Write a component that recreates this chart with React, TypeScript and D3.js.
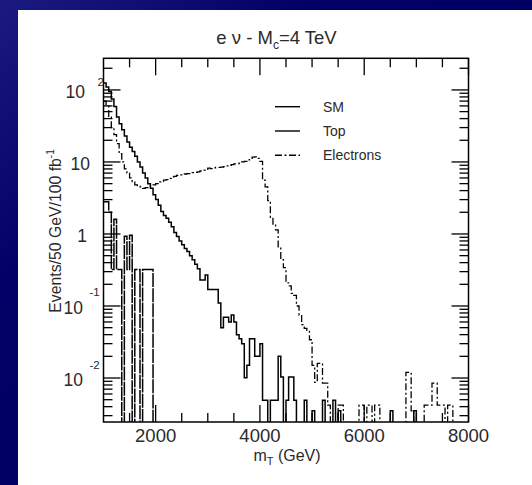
import React from 'react'
import * as d3 from 'd3'

// 50 GeV bins, first bin starts at 1000 GeV
const binStart = 1000
const binWidth = 50

// Events / 50 GeV / 100 fb^-1, one value per bin (0 = empty bin)
const smValues = [
    125, 110, 95, 75, 59, 42, 34, 28, 23, 19,
    16, 14, 12, 10, 8.5, 7.0, 6.0, 5.0, 4.3, 3.5,
    3.0, 2.5, 2.05, 1.8, 1.65, 1.45, 1.26, 1.05, 0.92, 0.8,
    0.71, 0.63, 0.57, 0.5, 0.44, 0.38, 0.33, 0.23, 0.23, 0.27,
    0.17, 0.17, 0.17, 0.17, 0.11, 0.05, 0.07, 0.07, 0.06, 0.075,
    0.06, 0.04, 0.035, 0.03, 0.0101, 0.015, 0.035, 0.035, 0.02, 0.02,
    0.03, 0.0049, 0.0049, 0, 0.0049, 0.0049, 0.0049, 0.02, 0.0103, 0,
    0.0049, 0.0103, 0.0103, 0.0049, 0, 0, 0, 0.0049, 0, 0,
    0.0035, 0, 0, 0, 0.0049, 0, 0, 0, 0.0049, 0,
    0.0035, 0, 0, 0, 0, 0, 0, 0, 0, 0,
    0, 0, 0, 0, 0, 0, 0, 0, 0, 0,
    0.0035, 0, 0, 0, 0, 0, 0, 0, 0, 0.0035,
    0,
]

const topValues = [
    2.8, 2.8, 2.0, 0.32, 1.6, 0.32, 0.32, 0, 0.93, 0.32,
    0.96, 0, 0.32, 0.32, 0, 0.32, 0.32, 0.32, 0.32, 0,
]

const electronValues = [
    70, 60, 42, 30, 24, 18, 13, 10, 8, 7,
    6, 5.3, 4.8, 4.6, 4.5, 4.3, 4.4, 4.5, 4.7, 4.8,
    5.0, 5.3, 5.4, 5.6, 5.7, 5.9, 6.2, 6.3, 6.5, 6.6,
    6.6, 6.8, 6.9, 6.9, 7.1, 7.2, 7.3, 7.5, 7.7, 7.9,
    8.2, 8.1, 8.3, 8.4, 8.4, 8.5, 8.6, 8.8, 9.0, 9.2,
    9.4, 9.5, 9.6, 10.0, 10.2, 10.7, 11.2, 11.7, 11.8, 11.2,
    10.2, 5.6, 4.5, 2.9, 1.7, 1.33, 1.14, 0.66, 0.44, 0.34,
    0.21, 0.19, 0.15, 0.14, 0.1, 0.075, 0.055, 0.049, 0.046, 0.034,
    0.015, 0.0087, 0.016, 0.016, 0.0085, 0.0085, 0.0042, 0, 0, 0,
    0.0042, 0.0042, 0, 0, 0, 0, 0, 0, 0.0042, 0.0042,
    0, 0.0042, 0.0042, 0, 0.0042, 0.0042, 0, 0, 0, 0,
    0, 0, 0, 0, 0, 0, 0.012, 0.012, 0.0035, 0,
    0, 0, 0, 0.0042, 0.0042, 0.0042, 0.0085, 0.0085, 0.0042, 0.0042,
    0.0042, 0, 0.0042, 0.0042, 0, 0,
]

const xMajorTicks = [2000, 4000, 6000, 8000]
const xMinorTicks = [1500, 2500, 3000, 3500, 4500, 5000, 5500, 6500, 7000, 7500]
const yDecades = [2, 1, 0, -1, -2]
const yMinorMult = [2, 3, 4, 5, 6, 7, 8, 9]
const legendItems = ['SM', 'Top', 'Electrons']

const W = 532
const H = 485
const frame = { left: 103.5, right: 468.5, top: 58.3, bottom: 422 }
const font = '"Liberation Sans", Arial, Helvetica, sans-serif'
const ink = '#2a2a2a'

const x = d3.scaleLinear().domain([1000, 8000]).range([frame.left, frame.right])
const y = d3.scaleLog().domain([0.00245, 275]).range([frame.bottom, frame.top])

function stepPath(values: number[]): string {
    const floor = frame.bottom + 6
    let d = ''
    values.forEach((v, i) => {
        const x0 = x(binStart + i * binWidth)
        const x1 = x(binStart + (i + 1) * binWidth)
        const yy = v > 0 ? y(v) : floor
        d += i === 0 ? `M${x0},${yy}` : `V${yy}`
        d += `H${x1}`
    })
    d += `V${floor}`
    return d
}

const series = [
    { name: 'SM', values: smValues, dash: undefined, width: 1.5 },
    { name: 'Top', values: topValues, dash: '14,1.2', width: 1.5 },
    { name: 'Electrons', values: electronValues, dash: '7,2.5,2,2.5', width: 1.3 },
]

const App: React.FC = () => {
    const yMinor: number[] = []
    for (let e = -3; e <= 2; e++) {
        yMinorMult.forEach((m) => {
            const v = m * Math.pow(10, e)
            if (v > y.domain()[0] && v < y.domain()[1]) yMinor.push(v)
        })
    }

    return (
        <svg
            width={W}
            height={H}
            style={{ position: 'fixed', left: 0, top: 0, display: 'block' }}
            fontFamily={font}
        >
            <defs>
                <linearGradient id="bg" x1="0" y1="0" x2="1" y2="1">
                    <stop offset="0" stopColor="#1a1a80" />
                    <stop offset="0.3" stopColor="#000066" />
                    <stop offset="1" stopColor="#00005e" />
                </linearGradient>
                <clipPath id="plot">
                    <rect
                        x={frame.left}
                        y={frame.top}
                        width={frame.right - frame.left}
                        height={frame.bottom - frame.top}
                    />
                </clipPath>
            </defs>
            <rect width={W} height={H} fill="url(#bg)" />
            <rect x={18} y={10} width={W - 18} height={H - 10} fill="#fff" />

            {/* title */}
            <text x={276.5} y={43.5} fontSize={18.5} fill={ink} textAnchor="middle">
                e ν - M
                <tspan fontSize={12} dy={5}>c</tspan>
                <tspan dy={-5}>=4 TeV</tspan>
            </text>

            {/* histograms */}
            <g clipPath="url(#plot)" fill="none" stroke="#000">
                {series.map((s) => (
                    <path
                        key={s.name}
                        d={stepPath(s.values)}
                        strokeWidth={s.width}
                        strokeDasharray={s.dash}
                    />
                ))}
            </g>

            {/* frame */}
            <rect
                x={frame.left}
                y={frame.top}
                width={frame.right - frame.left}
                height={frame.bottom - frame.top}
                fill="none"
                stroke="#000"
                strokeWidth={1.5}
            />

            {/* ticks on all four sides */}
            <g stroke="#000" strokeWidth={1.3}>
                {xMajorTicks.map((t) => (
                    <g key={'M' + t}>
                        <line x1={x(t)} x2={x(t)} y1={frame.bottom} y2={frame.bottom - 17} />
                        <line x1={x(t)} x2={x(t)} y1={frame.top} y2={frame.top + 17} />
                    </g>
                ))}
                {xMinorTicks.map((t) => (
                    <g key={'m' + t}>
                        <line x1={x(t)} x2={x(t)} y1={frame.bottom} y2={frame.bottom - 9} />
                        <line x1={x(t)} x2={x(t)} y1={frame.top} y2={frame.top + 9} />
                    </g>
                ))}
                {yDecades.map((e) => {
                    const yy = y(Math.pow(10, e))
                    return (
                        <g key={'Y' + e}>
                            <line x1={frame.left} x2={frame.left + 17} y1={yy} y2={yy} />
                            <line x1={frame.right} x2={frame.right - 17} y1={yy} y2={yy} />
                        </g>
                    )
                })}
                {yMinor.map((v, i) => (
                    <g key={'y' + i}>
                        <line x1={frame.left} x2={frame.left + 9} y1={y(v)} y2={y(v)} />
                        <line x1={frame.right} x2={frame.right - 9} y1={y(v)} y2={y(v)} />
                    </g>
                ))}
            </g>

            {/* x tick labels */}
            <g fontSize={18.5} fill={ink} textAnchor="middle">
                {xMajorTicks.map((t) => (
                    <text key={t} x={x(t)} y={442}>
                        {t}
                    </text>
                ))}
            </g>

            {/* y tick labels, PAW style 10 with raised exponent */}
            <g fill={ink}>
                {yDecades.map((e) => {
                    const yy = y(Math.pow(10, e))
                    if (e === 0)
                        return (
                            <text key={e} x={87} y={yy + 8} fontSize={17.5} textAnchor="end">
                                1
                            </text>
                        )
                    if (e === 1)
                        return (
                            <text key={e} x={90} y={yy + 8} fontSize={17.5} textAnchor="end">
                                10
                            </text>
                        )
                    const mainRight = e > 0 ? 85 : 83
                    return (
                        <g key={e}>
                            <text x={mainRight} y={yy + 8} fontSize={17.5} textAnchor="end">
                                10
                            </text>
                            <text x={e > 0 ? 97.5 : 89.5} y={yy + (e > 0 ? -3.5 : -9.5)} fontSize={11.5}>
                                {e > 0 ? String(e) : '-' + String(-e)}
                            </text>
                        </g>
                    )
                })}
            </g>

            {/* axis titles */}
            <text x={287} y={461} fontSize={16} fill={ink} textAnchor="middle">
                m
                <tspan fontSize={11} dy={4}>T</tspan>
                <tspan dy={-4}> (GeV)</tspan>
            </text>
            <text
                transform="translate(60.5,231) rotate(-90)"
                fontSize={15.8}
                fill={ink}
                textAnchor="middle"
            >
                Events/50 GeV/100 fb
                <tspan fontSize={10} dy={-7}>-1</tspan>
            </text>

            {/* legend */}
            <g>
                {legendItems.map((name, i) => {
                    const s = series.find((d) => d.name === name)!
                    const ly = 106.7 + i * 24.3
                    return (
                        <g key={name}>
                            <line
                                x1={275}
                                x2={300}
                                y1={ly}
                                y2={ly}
                                stroke="#000"
                                strokeWidth={1.4}
                                strokeDasharray={name === 'Electrons' ? s.dash : undefined}
                            />
                            <text x={323} y={ly + 5} fontSize={14} fill={ink}>
                                {name}
                            </text>
                        </g>
                    )
                })}
            </g>
        </svg>
    )
}

export default App
